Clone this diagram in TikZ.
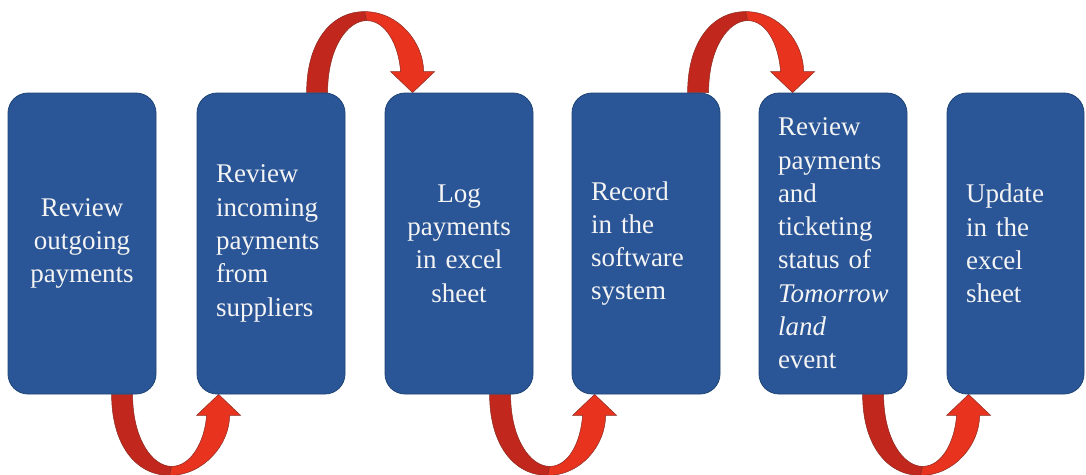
\documentclass[tikz,border=0pt]{standalone}
\usepackage{fontspec}
\setmainfont{Liberation Serif}
\usetikzlibrary{calc}
\pgfdeclarelayer{back}
\pgfsetlayers{back,main}

\definecolor{boxblue}{HTML}{2A5596}
\definecolor{boxedge}{HTML}{1F4677}
\definecolor{boxtext}{HTML}{F4F4F4}
\definecolor{ribred}{HTML}{E8331F}
\definecolor{ribdark}{HTML}{C1271C}
\definecolor{ribline}{HTML}{8A2A20}

% Ribbon arrow from one box edge to the next.
% #1 source node, #2 target node, #3 anchor side (north/south),
% #4 direction away from the edge (1 = down, -1 = up), #5 horizontal shift
\newcommand\ribbonarrow[5]{%
  \coordinate (o) at (#1.#3 west);
  \coordinate (t) at (#2.#3 west);
  % back half of the ribbon (darker)
  \filldraw[ribdark, draw=ribline, line width=0.5pt]
    ($(o)+(104+#5,0)$)
      .. controls ($(o)+(104+#5,50*#4)$) and ($(o)+(128+#5,81*#4)$) .. ($(o)+(162+#5,81*#4)$)
    -- ($(o)+(164+#5,72*#4)$)
      .. controls ($(o)+(145+#5,72*#4)$) and ($(o)+(125+#5,45*#4)$) .. ($(o)+(125+#5,0)$)
    -- cycle;
  % front half with the head
  \filldraw[ribred, draw=ribline, line width=0.5pt]
    ($(o)+(162+#5,81*#4)$)
      .. controls ($(o)+(196+#5,81*#4)$) and ($(t)+(33+#5,50*#4)$) .. ($(t)+(33+#5,21*#4)$)
    -- ($(t)+(44+#5,21*#4)$) -- ($(t)+(22+#5,0)$) -- ($(t)+(0+#5,21*#4)$)
    -- ($(t)+(10+#5,21*#4)$)
      .. controls ($(t)+(8+#5,48*#4)$) and ($(o)+(183+#5,72*#4)$) .. ($(o)+(164+#5,72*#4)$)
    -- cycle;
}

\begin{document}
\begin{tikzpicture}[x=1pt,y=-1pt,
  stepbox/.style={draw=boxedge, line width=0.8pt, fill=boxblue,
    rounded corners=20pt, minimum height=301pt, text width=110pt,
    inner xsep=19pt, inner ysep=0pt, text=boxtext,
    font=\fontsize{27}{33.3}\selectfont},
  leftbox/.style={stepbox, align=left},
  midbox/.style={stepbox, align=center}]

\useasboundingbox (0,0) rectangle (1086,474);

\node[midbox]  (b1) at (82,243.5)  {Review\\outgoing\\payments};
\node[leftbox] (b2) at (271,243.5) {Review\\incoming\\payments\\from\\suppliers};
\node[midbox]  (b3) at (459,243.5) {Log\\payments\\in excel\\sheet};
\node[leftbox] (b4) at (646,243.5) {Record\\in the\\software\\system};
\node[leftbox] (b5) at (833,243.5) {Review\\payments\\and\\ticketing\\status of\\\textit{Tomorrow}\\\textit{land}\\event};
\node[leftbox, text width=99pt] (b6) at (1015.5,243.5) {Update\\in the\\excel\\sheet};

\begin{pgfonlayer}{back}
  \fill[white] (0,0) rectangle (1086,474);
  \ribbonarrow{b1}{b2}{south}{1}{0}
  \ribbonarrow{b2}{b3}{north}{-1}{6}
  \ribbonarrow{b3}{b4}{south}{1}{1}
  \ribbonarrow{b4}{b5}{north}{-1}{12}
  \ribbonarrow{b5}{b6}{south}{1}{0}
\end{pgfonlayer}
\end{tikzpicture}
\end{document}
